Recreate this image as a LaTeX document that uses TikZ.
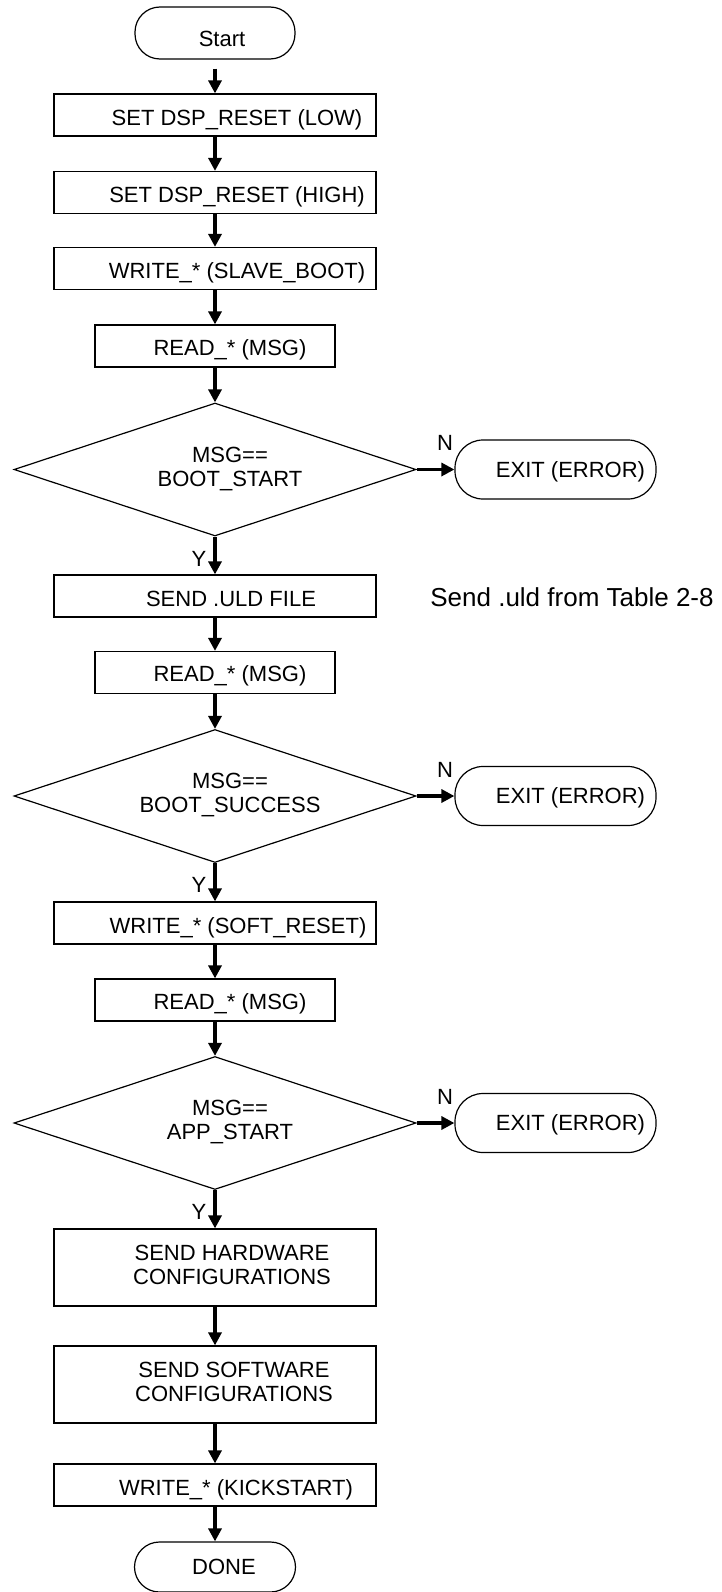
\documentclass[tikz,border=0pt]{standalone}
\usepackage{fontspec}
\setmainfont{Liberation Sans}
\usetikzlibrary{arrows.meta,shapes,positioning}

\newcommand{\twoline}[2]{\begin{tabular}{@{}c@{}}#1\\#2\end{tabular}}

\begin{document}
\begin{tikzpicture}[x=1pt, y=-1pt, font=\fontsize{22}{24}\selectfont]
          \tikzstyle{arrow} = [draw, -{Triangle[length=13pt,width=13pt]}, line width=3.2pt]
          \tikzstyle{box} = [rectangle, draw, line width=1.2pt, minimum width=322pt, inner sep=2pt]
          \tikzstyle{block} = [box, minimum height=42pt, text height=25.8pt, text depth=5pt]
          \tikzstyle{narrow} = [block, minimum width=240pt, text height=23.8pt]
          \tikzstyle{tall} = [box, minimum height=77pt]
          \tikzstyle{test} = [diamond, draw, line width=1.2pt, shape aspect=3, minimum width=402pt, minimum height=133pt, inner sep=0pt]
          \tikzstyle{term} = [rectangle, draw, line width=1.2pt, rounded corners=25pt, minimum width=160pt, minimum height=52pt, inner sep=2pt, text height=32pt, text depth=5pt]
          \tikzstyle{stop} = [term, rounded corners=28pt, minimum width=201pt, minimum height=59pt, text height=20.8pt]
          \tikzstyle{ylab} = [left=7pt, inner sep=0pt]
          \tikzstyle{nlab} = [pos=0.75, above=17pt, inner sep=0pt]
          \tikzset{indent/.style={execute at begin node={\hspace*{#1}}}}

          \useasboundingbox (0,0) rectangle (721,1592);

          \node[term, indent=14pt] (start) at (215,33) {Start};
          \node[block, indent=44pt] (setlow) at (215,115) {SET DSP\_RESET (LOW)};
          \node[block, indent=44pt] (sethigh) at (215,192.5) {SET DSP\_RESET (HIGH)};
          \node[block, indent=44pt] (wboot) at (215,268.5) {WRITE\_* (SLAVE\_BOOT)};
          \node[narrow, indent=30pt] (read1) at (215,346) {READ\_* (MSG)};
          \node[test, indent=30pt] (bootstart) at (215,469.5) {\twoline{MSG==}{BOOT\_START}};
          \node[stop, indent=30pt] (exit1) at (555.5,469.5) {EXIT (ERROR)};

          \node[block, indent=32pt] (senduld) at (215,596) {SEND .ULD FILE};
          \node[font=\fontsize{26}{30}\selectfont] (uldnote) at (572,597) {Send .uld from Table 2-8};
          \node[narrow, indent=30pt] (read2) at (215,672.5) {READ\_* (MSG)};
          \node[test, indent=30pt] (bootok) at (215,796) {\twoline{MSG==}{BOOT\_SUCCESS}};
          \node[stop, indent=30pt] (exit2) at (555.5,796) {EXIT (ERROR)};

          \node[block, indent=46pt] (softrst) at (215,923) {WRITE\_* (SOFT\_RESET)};
          \node[narrow, indent=30pt] (read3) at (215,1000) {READ\_* (MSG)};
          \node[test, indent=30pt] (appstart) at (215,1123) {\twoline{MSG==}{APP\_START}};
          \node[stop, indent=30pt] (exit3) at (555.5,1123) {EXIT (ERROR)};

          \node[tall, indent=34pt] (sendhw) at (215,1267.5) {\twoline{SEND HARDWARE}{CONFIGURATIONS}};
          \node[tall, indent=38pt] (sendsw) at (215,1384.5) {\twoline{SEND SOFTWARE}{CONFIGURATIONS}};
          \node[block, indent=42pt] (kick) at (215,1485) {WRITE\_* (KICKSTART)};
          \node[term, indent=18pt, minimum width=161pt, minimum height=50pt, text height=20.8pt] (done) at (215,1567) {DONE};

          \path[arrow, shorten <=9pt] (start) -- (setlow);
          \path[arrow] (setlow) -- (sethigh);
          \path[arrow] (sethigh) -- (wboot);
          \path[arrow] (wboot) -- (read1);
          \path[arrow] (read1) -- (bootstart);
          \path[arrow] (bootstart) -- node[nlab] {N} (exit1);
          \path[arrow] (bootstart) -- node[pos=0.6, ylab] {Y} (senduld);
          \path[arrow] (senduld) -- (read2);
          \path[arrow] (read2) -- (bootok);
          \path[arrow] (bootok) -- node[nlab] {N} (exit2);
          \path[arrow] (bootok) -- node[pos=0.56, ylab] {Y} (softrst);
          \path[arrow] (softrst) -- (read3);
          \path[arrow] (read3) -- (appstart);
          \path[arrow] (appstart) -- node[nlab] {N} (exit3);
          \path[arrow] (appstart) -- node[pos=0.56, ylab] {Y} (sendhw);
          \path[arrow] (sendhw) -- (sendsw);
          \path[arrow] (sendsw) -- (kick);
          \path[arrow] (kick) -- (done);
        \end{tikzpicture}
\end{document}
